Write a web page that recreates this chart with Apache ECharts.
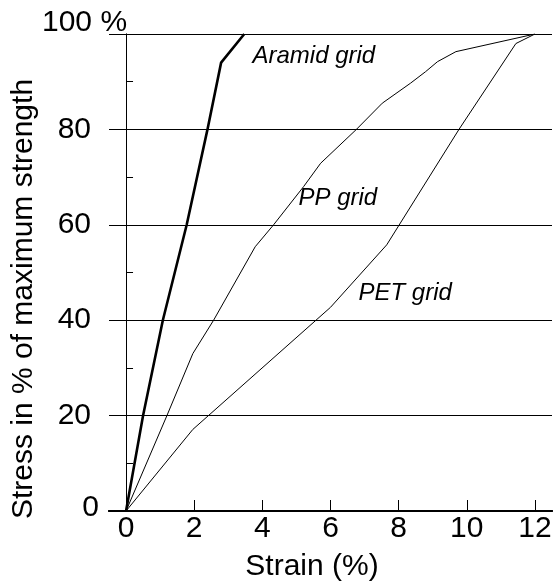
<!DOCTYPE html>
<html>
<head>
<meta charset="utf-8">
<script src="https://cdn.jsdelivr.net/npm/echarts@6/dist/echarts.min.js"></script>
<style>
  html, body { margin: 0; padding: 0; background: #fff; }
  #chart { width: 555px; height: 585px; }
</style>
</head>
<body>
<div id="chart"></div>
<script>
// Tick values and labels
const strainTicks = [0, 2, 4, 6, 8, 10, 12];
const stressTicks = [0, 20, 40, 60, 80, 100];
const stressTickLabels = ['0', '20', '40', '60', '80', '100 %'];

// Stress–strain curves: [strain %, stress % of maximum strength]
const aramidGrid = [[0, 0], [0.5, 20], [1.08, 40], [1.78, 60], [2.39, 80], [2.79, 94], [3.47, 100]];
const ppGrid = [[0, 0], [1.2, 20], [1.96, 33], [2.57, 40], [3.79, 55.4], [4.33, 60], [5.21, 68],
                [5.71, 72.9], [6.76, 80], [7.52, 85.5], [8.35, 89.7], [8.79, 92.1], [9.14, 94.2],
                [9.68, 96.3], [12, 100]];
const petGrid = [[0, 0], [1.96, 17.1], [6.0, 42.7], [7.65, 55.8], [9.77, 80], [11.44, 98], [12, 100]];

const seriesNames = ['Aramid grid', 'PP grid', 'PET grid'];
// Where each curve's caption starts, in data coordinates
const captionAnchors = [[3.71, 95.4], [5.06, 65.6], [6.82, 45.7]];

const FONT = '"Liberation Sans", Arial, Helvetica, sans-serif';
const chart = echarts.init(document.getElementById('chart'), null, { renderer: 'canvas' });

function curve(name, data, width, anchor) {
  return {
    name: name,
    type: 'line',
    data: data,
    symbol: 'none',
    showSymbol: false,
    smooth: false,
    lineStyle: { color: '#000', width: width },
    silent: true,
    markPoint: {
      symbol: 'circle',
      symbolSize: 0,
      silent: true,
      data: [{ coord: anchor, value: name }],
      label: {
        show: true,
        position: 'inside',
        align: 'left',
        verticalAlign: 'middle',
        formatter: name,
        fontFamily: FONT,
        fontStyle: 'italic',
        fontSize: 24,
        color: '#000'
      }
    }
  };
}

const option = {
  animation: false,
  backgroundColor: '#fff',
  grid: { left: 109, right: 3, top: 34, bottom: 74, containLabel: false },
  xAxis: [
    {
      type: 'value', min: -0.5, max: 12.5, position: 'bottom',
      axisLine: { show: true, lineStyle: { color: '#000', width: 2 } },
      axisTick: { show: true, inside: true, length: 11, customValues: strainTicks,
                  lineStyle: { color: '#000', width: 1 } },
      axisLabel: { show: true, customValues: strainTicks, margin: 3, fontSize: 30,
                   fontFamily: FONT, color: '#000' },
      splitLine: { show: false }
    },
    {
      type: 'value', min: -0.5, max: 12.5, position: 'top',
      axisLine: { show: true, lineStyle: { color: '#000', width: 2 } },
      axisTick: { show: false }, axisLabel: { show: false }, splitLine: { show: false }
    }
  ],
  yAxis: [
    {
      type: 'value', min: 0, max: 100, interval: 20, position: 'left',
      axisLine: { show: true, lineStyle: { color: '#333', width: 1 } },
      axisTick: { show: true, inside: true, length: 7, lineStyle: { color: '#000', width: 1 } },
      minorTick: { show: true, splitNumber: 2, length: 7, lineStyle: { color: '#000', width: 1 } },
      axisLabel: {
        show: true, margin: 10, fontSize: 30, fontFamily: FONT, color: '#000',
        formatter: function (v) {
          const i = stressTicks.indexOf(v);
          if (i < 0 || v === 100) return '';
          return v === 0 ? '{z|' + stressTickLabels[i] + '}' : '{n|' + stressTickLabels[i] + '}';
        },
        rich: {
          z: { fontSize: 30, fontFamily: FONT, color: '#000', padding: [0, 0, 7, 0] },
          n: { fontSize: 30, fontFamily: FONT, color: '#000', padding: [0, 8, 0, 0] }
        }
      },
      splitLine: { show: true, lineStyle: { color: '#000', width: 1.2 } }
    },
    {
      type: 'value', min: 0, max: 100, position: 'right',
      axisLine: { show: true, lineStyle: { color: '#000', width: 1 } },
      axisTick: { show: false }, axisLabel: { show: false }, splitLine: { show: false }
    }
  ],
  graphic: [
    {
      type: 'text', left: 42, top: 8, silent: true,
      style: { text: stressTickLabels[5], font: '30px ' + FONT, fill: '#000' }
    },
    {
      type: 'text', x: 24, y: 299, rotation: Math.PI / 2, silent: true,
      style: { text: 'Stress in % of maximum strength', font: '30px ' + FONT, fill: '#000',
               textAlign: 'center', textVerticalAlign: 'middle' }
    },
    {
      type: 'text', x: 312, y: 567, silent: true,
      style: { text: 'Strain (%)', font: '30px ' + FONT, fill: '#000',
               textAlign: 'center', textVerticalAlign: 'middle' }
    }
  ],
  series: [
    curve(seriesNames[0], aramidGrid, 2.6, captionAnchors[0]),
    curve(seriesNames[1], ppGrid, 1, captionAnchors[1]),
    curve(seriesNames[2], petGrid, 1, captionAnchors[2])
  ]
};

chart.setOption(option);
</script>
</body>
</html>
